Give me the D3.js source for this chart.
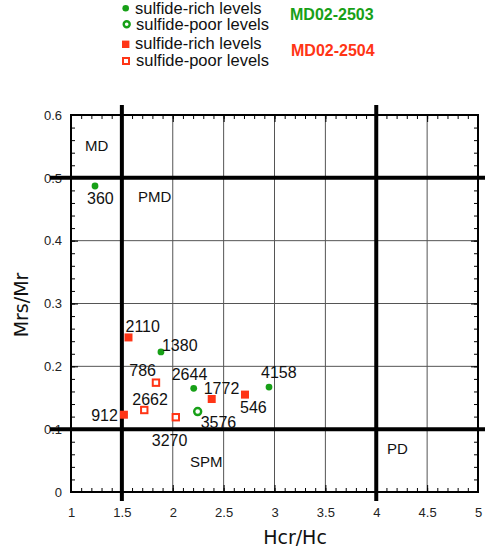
<!DOCTYPE html>
<html><head><meta charset="utf-8">
<script src="https://cdn.jsdelivr.net/npm/d3@7"></script>
<style>
html,body{margin:0;padding:0;background:#fff;}
svg{display:block;font-family:"Liberation Sans",Arial,sans-serif;}
</style></head>
<body>
<svg id="chart" width="485" height="551"></svg>
<script>
// ---- data ----
const xTickValues = [1, 1.5, 2, 2.5, 3, 3.5, 4, 4.5, 5];
const xTickLabels = ["1", "1.5", "2", "2.5", "3", "3.5", "4", "4.5", "5"];
const yTickValues = [0, 0.1, 0.2, 0.3, 0.4, 0.5, 0.6];
const yTickLabels = ["0", "0.1", "0.2", "0.3", "0.4", "0.5", "0.6"];
const xBoundaries = [1.5, 4];
const yBoundaries = [0.1, 0.5];

// MD02-2503 (green)
const green2503RichLabels = ["360", "1380", "2644", "4158"];
const green2503RichHcr = [1.236, 1.884, 2.206, 2.946];
const green2503RichMrs = [0.487, 0.223, 0.165, 0.167];
const green2503PoorLabels = ["3576"];
const green2503PoorHcr = [2.245];
const green2503PoorMrs = [0.128];
// MD02-2504 (red)
const red2504RichLabels = ["2110", "912", "1772", "546"];
const red2504RichHcr = [1.565, 1.52, 2.383, 2.71];
const red2504RichMrs = [0.246, 0.123, 0.148, 0.155];
const red2504PoorLabels = ["786", "2662", "3270"];
const red2504PoorHcr = [1.835, 1.72, 2.03];
const red2504PoorMrs = [0.174, 0.1305, 0.119];

const regionNames = ["MD", "PMD", "SPM", "PD"];
const regionHcr = [1.138, 1.658, 2.17, 4.106];
const regionMrs = [0.542, 0.461, 0.039, 0.061];

const legendTexts = ["sulfide-rich levels", "sulfide-poor levels", "sulfide-rich levels", "sulfide-poor levels"];
const coreNames = ["MD02-2503", "MD02-2504"];

// ---- layout / style ----
const GREEN = "#17a017", RED = "#ff3516";
const labelLayout = { // dx, dy, anchor relative to point
  "360": [-8, 18, "start"], "1380": [1, -1, "start"], "2644": [-22, -8, "start"], "4158": [-8, -9, "start"],
  "3576": [3, 16, "start"], "2110": [-3, -5, "start"], "912": [-6, 6, "end"], "1772": [-8, -5, "start"],
  "546": [-5, 18, "start"], "786": [0, -7, "end"], "2662": [-12, -5, "start"], "3270": [-24, 29, "start"]
};

const svg = d3.select("#chart");
const L = 71, R = 478, T = 115, B = 492;
const x = d3.scaleLinear().domain([1, 5]).range([L, R]);
const y = d3.scaleLinear().domain([0, 0.6]).range([B, T]);

// thin grid
const g = svg.append("g");
g.selectAll(".vg").data(xTickValues.filter(v => v > 1 && v < 5 && !xBoundaries.includes(v)))
  .join("line").attr("x1", d => x(d)).attr("x2", d => x(d)).attr("y1", T).attr("y2", B)
  .attr("stroke", "#555").attr("stroke-width", 1);
g.selectAll(".hg").data(yTickValues.filter(v => v > 0 && v < 0.6 && !yBoundaries.includes(v)))
  .join("line").attr("x1", L).attr("x2", R).attr("y1", d => y(d)).attr("y2", d => y(d))
  .attr("stroke", "#555").attr("stroke-width", 1);

// minor/major ticks via axes (inward)
function styleAxis(sel) {
  sel.select(".domain").remove();
  sel.selectAll(".tick line").attr("stroke", "#000").attr("stroke-width", 1);
}
svg.append("g").attr("transform", `translate(0,${B})`)
  .call(d3.axisBottom(x).ticks(40).tickSize(-4).tickFormat("")).call(styleAxis);
svg.append("g").attr("transform", `translate(0,${T})`)
  .call(d3.axisTop(x).ticks(40).tickSize(-4).tickFormat("")).call(styleAxis);
svg.append("g").attr("transform", `translate(${L},0)`)
  .call(d3.axisLeft(y).ticks(30).tickSize(-4).tickFormat("")).call(styleAxis);
svg.append("g").attr("transform", `translate(${R},0)`)
  .call(d3.axisRight(y).ticks(30).tickSize(-4).tickFormat("")).call(styleAxis);

// major with labels
const xAx = svg.append("g").attr("transform", `translate(0,${B})`)
  .call(d3.axisBottom(x).tickValues(xTickValues).tickSize(-7).tickPadding(16)
    .tickFormat((d, i) => xTickLabels[i])).call(styleAxis);
xAx.selectAll("text").attr("font-size", 13).attr("fill", "#222").attr("font-family", "Liberation Sans, Arial, sans-serif");
const yAx = svg.append("g").attr("transform", `translate(${L},0)`)
  .call(d3.axisLeft(y).tickValues(yTickValues).tickSize(-7).tickPadding(9)
    .tickFormat((d, i) => yTickLabels[i])).call(styleAxis);
yAx.selectAll("text").attr("font-size", 13).attr("fill", "#222").attr("font-family", "Liberation Sans, Arial, sans-serif");
svg.append("g").attr("transform", `translate(0,${T})`)
  .call(d3.axisTop(x).tickValues(xTickValues).tickSize(-7).tickFormat("")).call(styleAxis);
svg.append("g").attr("transform", `translate(${R},0)`)
  .call(d3.axisRight(y).tickValues(yTickValues).tickSize(-7).tickFormat("")).call(styleAxis);

// box
svg.append("rect").attr("x", L).attr("y", T).attr("width", R - L).attr("height", B - T)
  .attr("fill", "none").attr("stroke", "#000").attr("stroke-width", 2);

// thick boundaries
svg.selectAll(".vb").data(xBoundaries).join("line")
  .attr("x1", d => x(d)).attr("x2", d => x(d)).attr("y1", T - 10).attr("y2", B + 9)
  .attr("stroke", "#000").attr("stroke-width", 4);
svg.selectAll(".hb").data(yBoundaries).join("line")
  .attr("x1", L - 21).attr("x2", 485).attr("y1", d => y(d)).attr("y2", d => y(d))
  .attr("stroke", "#000").attr("stroke-width", 4);

// region labels
svg.selectAll(".reg").data(regionNames).join("text")
  .attr("x", (d, i) => x(regionHcr[i])).attr("y", (d, i) => y(regionMrs[i]))
  .attr("font-size", 15).attr("fill", "#111").text(d => d);

// points
function pts(labels, hx, my) { return labels.map((l, i) => ({ label: l, x: hx[i], y: my[i] })); }
const gr = pts(green2503RichLabels, green2503RichHcr, green2503RichMrs);
const gp = pts(green2503PoorLabels, green2503PoorHcr, green2503PoorMrs);
const rr = pts(red2504RichLabels, red2504RichHcr, red2504RichMrs);
const rp = pts(red2504PoorLabels, red2504PoorHcr, red2504PoorMrs);

svg.selectAll(".gr").data(gr).join("circle").attr("cx", d => x(d.x)).attr("cy", d => y(d.y))
  .attr("r", 3.4).attr("fill", GREEN);
svg.selectAll(".gp").data(gp).join("circle").attr("cx", d => x(d.x)).attr("cy", d => y(d.y))
  .attr("r", 3.5).attr("fill", "#fff").attr("stroke", GREEN).attr("stroke-width", 2.4);
svg.selectAll(".rr").data(rr).join("rect").attr("x", d => x(d.x) - 4).attr("y", d => y(d.y) - 4)
  .attr("width", 8).attr("height", 8).attr("fill", RED);
svg.selectAll(".rp").data(rp).join("rect").attr("x", d => x(d.x) - 3.2).attr("y", d => y(d.y) - 3.2)
  .attr("width", 6.4).attr("height", 6.4).attr("fill", "#fff").attr("stroke", RED).attr("stroke-width", 2);

const all = gr.concat(gp, rr, rp);
svg.selectAll(".lbl").data(all).join("text")
  .attr("x", d => x(d.x) + labelLayout[d.label][0]).attr("y", d => y(d.y) + labelLayout[d.label][1])
  .attr("text-anchor", d => labelLayout[d.label][2])
  .attr("font-size", 16).attr("fill", "#111").text(d => d.label);

// axis titles
svg.append("text").attr("x", 295).attr("y", 544).attr("text-anchor", "middle")
  .attr("font-size", 19).attr("fill", "#111").attr("font-family", "DejaVu Sans, sans-serif").text("Hcr/Hc");
svg.append("text").attr("transform", "translate(28,305) rotate(-90)").attr("text-anchor", "middle")
  .attr("font-size", 19).attr("fill", "#111").attr("font-family", "DejaVu Sans, sans-serif").text("Mrs/Mr");

// legend
const leg = svg.append("g");
const rowBase = [14, 30, 49, 66];
const rowCy = [8.3, 24.3, 44.3, 61];
leg.append("circle").attr("cx", 125.7).attr("cy", rowCy[0]).attr("r", 3.3).attr("fill", GREEN);
leg.append("circle").attr("cx", 126.7).attr("cy", rowCy[1]).attr("r", 3).attr("fill", "#fff").attr("stroke", GREEN).attr("stroke-width", 2.4);
leg.append("rect").attr("x", 122).attr("y", rowCy[2] - 3.7).attr("width", 7.4).attr("height", 7.4).attr("fill", RED);
leg.append("rect").attr("x", 123).attr("y", rowCy[3] - 3).attr("width", 6).attr("height", 6).attr("fill", "#fff").attr("stroke", RED).attr("stroke-width", 2);
leg.selectAll(".lt").data(legendTexts).join("text")
  .attr("x", (d, i) => i % 2 ? 136 : 135).attr("y", (d, i) => rowBase[i])
  .attr("font-size", 16.5).attr("fill", "#111").text(d => d);
leg.selectAll(".cn").data(coreNames).join("text")
  .attr("x", (d, i) => i ? 291 : 290).attr("y", (d, i) => i ? 56 : 20)
  .attr("font-size", 16).attr("font-weight", "bold").attr("fill", (d, i) => i ? RED : GREEN).text(d => d);
</script>
</body></html>
